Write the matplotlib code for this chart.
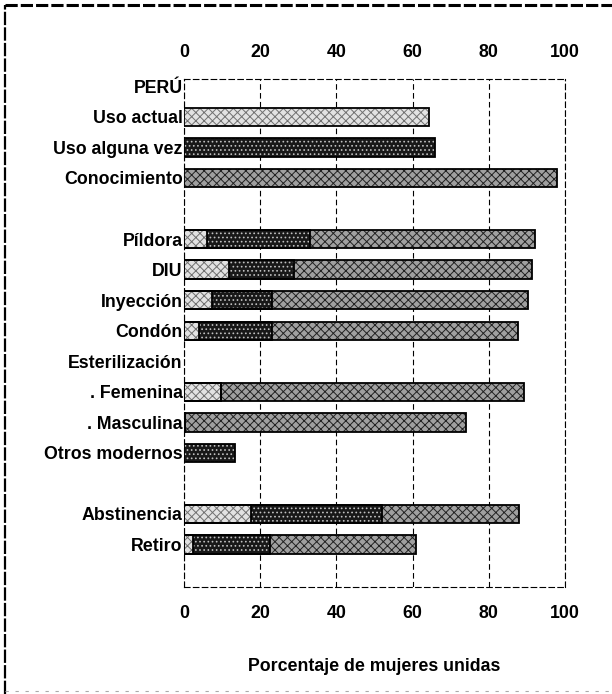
import matplotlib
matplotlib.use('Agg')
import matplotlib.pyplot as plt
from matplotlib.lines import Line2D
import numpy as np

nan = np.nan

# Categories (top to bottom), blank strings are spacer rows
categorias = ['PERÚ', 'Uso actual', 'Uso alguna vez', 'Conocimiento', '',
              'Píldora', 'DIU', 'Inyección', 'Condón', 'Esterilización',
              '. Femenina', '. Masculina', 'Otros modernos', '',
              'Abstinencia', 'Retiro']

# Percentages
uso_actual   = [nan, 64.2, nan, nan, nan, 6.1, 11.8, 7.4, 3.9, nan, 9.6, 0.3, nan, nan, 17.7, 2.4]
uso_alguna   = [nan, nan, 66.0, nan, nan, 33.2, 28.8, 23.1, 23.0, nan, 9.6, 0.3, 13.4, nan, 52.0, 22.5]
conocimiento = [nan, nan, nan, 97.8, nan, 92.0, 91.3, 90.2, 87.6, nan, 89.2, 74.1, nan, nan, 87.9, 61.0]

xticks = [0, 20, 40, 60, 80, 100]

plt.rcParams['font.family'] = ['Liberation Sans', 'DejaVu Sans']
plt.rcParams['font.weight'] = 'bold'
plt.rcParams['axes.labelweight'] = 'bold'
plt.rcParams['hatch.linewidth'] = 0.7

fig = plt.figure(figsize=(6.12, 6.94), dpi=100)
ax = fig.add_axes([184/612, 1-587/694, (565-184)/612, (587-79)/694])

y = np.arange(len(categorias))
h = 0.6

# Series styles: (face, hatch colour, hatch)
estilos = [
    (conocimiento, '#a0a0a0', '#222222', 'xxxx'),
    (uso_alguna,   '#181818', '#c0c0c0', '....'),
    (uso_actual,   '#e2e2e2', '#707070', 'xxxx'),
]
for vals, face, hcol, hatch in estilos:
    vals = np.array(vals)
    ax.barh(y, vals, height=h, color=face, edgecolor=hcol, hatch=hatch, lw=0, zorder=3)
    ax.barh(y, vals, height=h, fill=False, edgecolor='black', lw=1.3, zorder=4)

ax.set_xlim(0, 100)
ax.set_ylim(16.39, -0.24)
ax.set_xticks(xticks)
ax.set_yticks(y)
ax.set_yticklabels(categorias, fontsize=12.8)
ax.tick_params(axis='x', top=True, labeltop=True, length=0, labelsize=12.8, pad=13)
ax.tick_params(axis='y', length=0, pad=1)

ax.grid(axis='x', color='black', ls=(0, (5, 3)), lw=0.8, zorder=1)
for sp in ax.spines.values():
    sp.set_linestyle((0, (5, 3)))
    sp.set_linewidth(0.8)

ax.set_xlabel('Porcentaje de mujeres unidas', fontsize=12.8, labelpad=26)

# Page border lines of the scanned figure
fig.add_artist(Line2D([0.008, 1.0], [0.993, 0.993], transform=fig.transFigure,
                      color='black', lw=2.2, ls=(0, (4, 1))))
fig.add_artist(Line2D([0.008, 0.008], [0.0, 0.993], transform=fig.transFigure,
                      color='black', lw=1.6, ls=(0, (6, 1))))
fig.add_artist(Line2D([0.008, 1.0], [0.005, 0.005], transform=fig.transFigure,
                      color='#aaaaaa', lw=0.8, ls=(0, (3, 6))))

fig.savefig('out.png', dpi=100)
